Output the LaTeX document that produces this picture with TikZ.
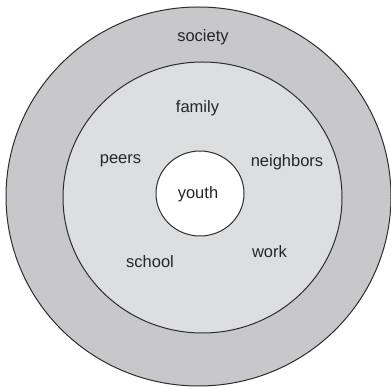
\documentclass[tikz,border=0pt]{standalone}
\usepackage{fontspec}
\setmainfont{Liberation Sans}
\definecolor{outerfill}{RGB}{200,200,202}
\definecolor{midfill}{RGB}{221,222,224}
\definecolor{edge}{RGB}{45,45,45}
\begin{document}
\begin{tikzpicture}[x=1pt,y=-1pt,
  ring/.style={draw=edge,line width=1pt},
  lbl/.style={anchor=base,inner sep=0pt,font=\fontsize{16.5}{18}\selectfont,text=black!85}]
\useasboundingbox (0,0) rectangle (391,387);
\fill[white] (0,0) rectangle (391,387);
\draw[ring,fill=outerfill] (198.5,196.5) ellipse [x radius=192.5, y radius=189.5];
\draw[ring,fill=midfill] (202.5,197.5) ellipse [x radius=139.5, y radius=135.5];
\draw[ring,fill=white] (200,193.5) ellipse [x radius=44, y radius=42.5];
\node[lbl] (society) at (203,41.5) {society};
\node[lbl] (family) at (197.5,113) {family};
\node[lbl] (peers) at (120.5,164) {peers};
\node[lbl] (neighbors) at (287,167) {neighbors};
\node[lbl] (youth) at (198,199) {youth};
\node[lbl] (school) at (150,268) {school};
\node[lbl] (work) at (269.5,258) {work};
\end{tikzpicture}
\end{document}
